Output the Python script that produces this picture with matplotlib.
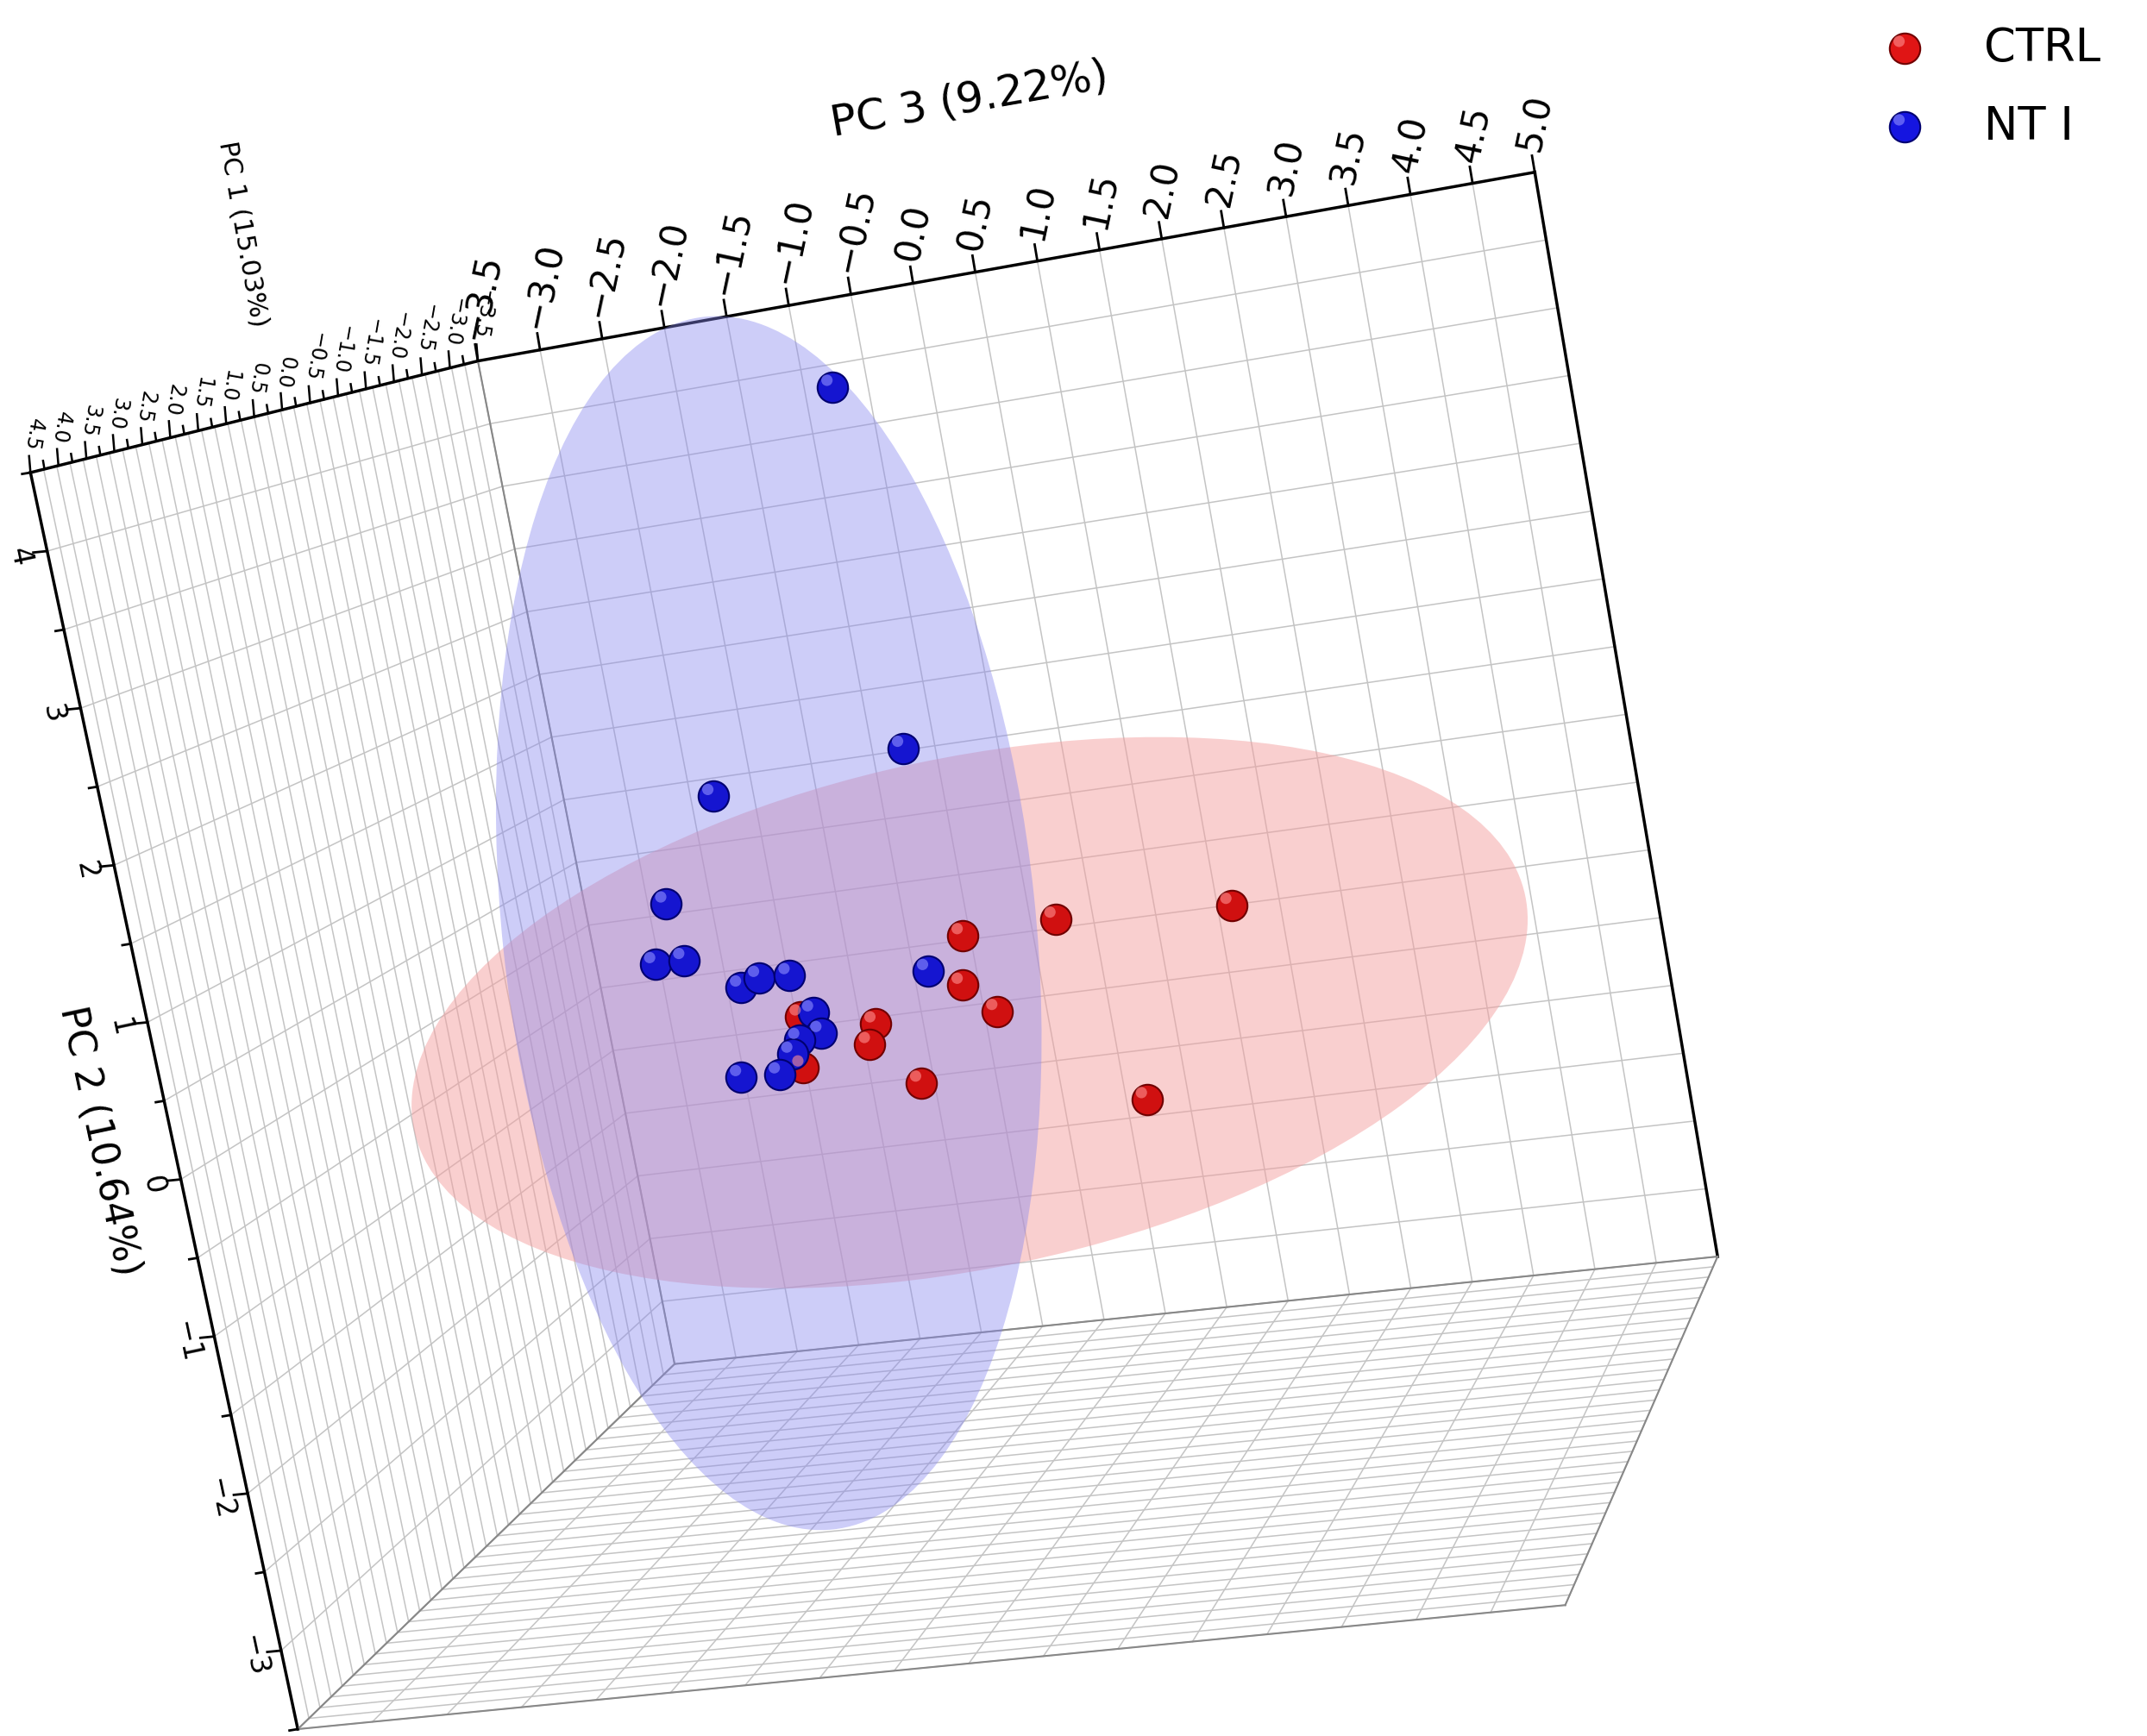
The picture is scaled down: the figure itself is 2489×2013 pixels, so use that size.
import numpy as np
import matplotlib
matplotlib.use("Agg")
import matplotlib.pyplot as plt
from matplotlib.patches import Ellipse

# ---- data (screen-space coordinates of projected PCA scores) ----
ctrl_x = [762, 889, 695, 695, 720, 632, 628, 578, 665, 828, 580]
ctrl_y = [667, 657, 679, 715, 734, 743, 758, 738, 786, 798, 775]
nt_x = [601, 652, 515, 481, 473, 494, 535, 548, 570, 670, 587, 593, 577, 572, 535, 563]
nt_y = [281, 543, 578, 656, 700, 697, 717, 710, 708, 705, 735, 750, 755, 765, 782, 780]
pc3_ticks = [-3.5, -3.0, -2.5, -2.0, -1.5, -1.0, -0.5, 0.0, 0.5, 1.0, 1.5, 2.0, 2.5, 3.0, 3.5, 4.0, 4.5, 5.0]
pc2_ticks = [4, 3, 2, 1, 0, -1, -2, -3]
pc1_ticks = [4.5, 4.0, 3.5, 3.0, 2.5, 2.0, 1.5, 1.0, 0.5, 0.0, -0.5, -1.0, -1.5, -2.0, -2.5, -3.0, -3.5]

fig = plt.figure(figsize=(24.89, 20.13), dpi=100)
ax = fig.add_axes([0, 0, 1, 1])
ax.set_xlim(0, 1550)
ax.set_ylim(1260, 0)
ax.axis("off")

# box corners
BTL = np.array([345, 262]); BTR = np.array([1108, 125])
BBR = np.array([1240, 912]); BBL = np.array([487, 990])
LTL = np.array([22, 343]); LBL = np.array([215, 1255])
FBL = np.array([1130, 1165])

def lerp(a, b, t):
    return a + (b - a) * t

def plane(p00, p10, p01, p11, nu, nv, color="#c4c4c4", lw=1.1):
    for i in range(nu + 1):
        t = i / nu
        a = lerp(p00, p10, t); b = lerp(p01, p11, t)
        ax.plot([a[0], b[0]], [a[1], b[1]], color=color, lw=lw, zorder=1)
    for j in range(nv + 1):
        t = j / nv
        a = lerp(p00, p01, t); b = lerp(p10, p11, t)
        ax.plot([a[0], b[0]], [a[1], b[1]], color=color, lw=lw, zorder=1)

plane(BTL, BTR, BBL, BBR, 17, 16)           # back wall
plane(LTL, BTL, LBL, BBL, 34, 16)           # left wall
plane(BBL, BBR, LBL, FBL, 17, 34)           # floor

# frame lines
for a, b in [(LTL, BTL), (BTL, BTR), (LTL, LBL), (BTR, BBR)]:
    ax.plot([a[0], b[0]], [a[1], b[1]], color="black", lw=2.5, zorder=2)
for a, b in [(BTL, BBL), (BBL, BBR), (BBL, LBL), (LBL, FBL), (FBL, BBR)]:
    ax.plot([a[0], b[0]], [a[1], b[1]], color="#888888", lw=1.5, zorder=2)

# PC3 ticks on top edge
for i, v in enumerate(pc3_ticks):
    t = i / (len(pc3_ticks) - 1)
    p = lerp(BTL, BTR, t)
    ax.plot([p[0], p[0] - 2], [p[1], p[1] - 12], color="black", lw=2, zorder=2)
    ax.text(p[0] - 4, p[1] - 16, f"{v:.1f}".replace("-", "\u2212"), rotation=78,
            rotation_mode="anchor", ha="left", va="center", fontsize=30)
ax.text(700, 72, "PC 3 (9.22%)", fontsize=36, rotation=10, ha="center", va="center")

# PC2 ticks on left edge (ticks point outward)
for k in range(17):
    t = k / 16.0
    p = lerp(LTL, LBL, t)
    h = 10 if k % 2 == 1 else 6
    ax.plot([p[0], p[0] - h], [p[1], p[1] + 1], color="black", lw=2, zorder=2)
for v in pc2_ticks:
    t = (4.5 - v) / 8.0
    p = lerp(LTL, LBL, t)
    ax.text(p[0] - 20, p[1] + 4, str(v).replace("-", "\u2212"), rotation=-78,
            ha="center", va="center", fontsize=24)
ax.text(72, 828, "PC 2 (10.64%)", fontsize=32, rotation=-78, ha="center", va="center")

# PC1 ticks on left wall top edge
n1 = len(pc1_ticks)
for i in range(2 * (n1 - 1) + 1):
    t = i / (2 * (n1 - 1))
    p = lerp(LTL, BTL, t)
    h = 12 if i % 2 == 0 else 6
    ax.plot([p[0], p[0] - 1], [p[1], p[1] - h], color="black", lw=1.8, zorder=2)
for i, v in enumerate(pc1_ticks):
    t = i / (n1 - 1)
    p = lerp(LTL, BTL, t)
    ax.text(p[0], p[1] - 16, f"{v:.1f}".replace("-", "\u2212"), rotation=-100,
            rotation_mode="anchor", ha="right", va="center", fontsize=17)
ax.text(175, 170, "PC 1 (15.03%)", fontsize=22, rotation=-80, ha="center", va="center")

# confidence ellipses
ax.add_patch(Ellipse((700, 735), 820, 370, angle=-12, facecolor="#f4a0a0",
                     alpha=0.5, edgecolor="none", zorder=3))
ax.add_patch(Ellipse((555, 670), 385, 885, angle=-6, facecolor="#8888f0",
                     alpha=0.42, edgecolor="none", zorder=3))

def balls(x, y, base, dark, light):
    ax.scatter(x, y, s=650, color=base, edgecolors=dark, linewidths=1.5, zorder=5)
    ax.scatter(np.array(x) - 4, np.array(y) - 5, s=90, color=light, alpha=0.6,
               edgecolors="none", zorder=6)

balls(ctrl_x, ctrl_y, "#d01010", "#700000", "#ff9090")
balls(nt_x, nt_y, "#1515d0", "#000070", "#9090ff")

# legend
balls([1375], [35], "#e01515", "#700000", "#ff9090")
balls([1375], [92], "#1515e0", "#000070", "#9090ff")
ax.text(1432, 35, "CTRL", fontsize=38, va="center", ha="left")
ax.text(1432, 92, "NT I", fontsize=38, va="center", ha="left")

fig.savefig("out.png", dpi=100)
